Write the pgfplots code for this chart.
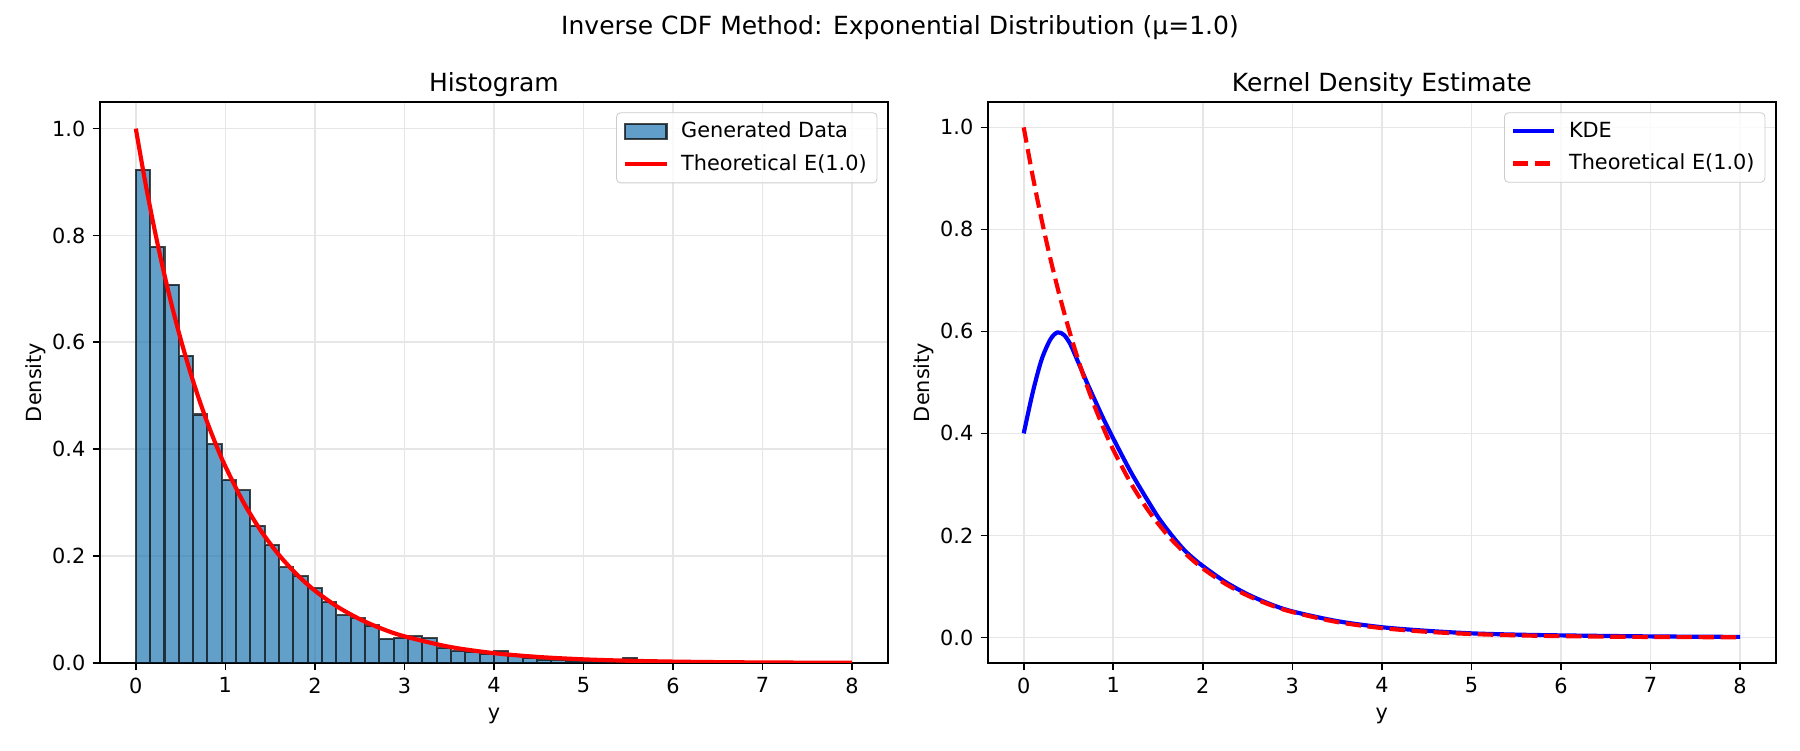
\documentclass[border=0pt]{standalone}
\usepackage{pgfplots}
\pgfplotsset{compat=1.18}
\usepackage{fontspec}
\setmainfont{DejaVu Sans}
\definecolor{histfill}{RGB}{31,119,180}
\definecolor{gridc}{RGB}{230,230,230}
\definecolor{legc}{RGB}{204,204,204}
\pgfplotsset{
  mpl/.style={
    scale only axis,
    width=378.2pt, height=269.3pt,
    xmin=-0.4, xmax=8.4,
    xtick={0,1,2,3,4,5,6,7,8},
    tick align=outside,
    xtick pos=bottom, ytick pos=left,
    major tick length=3.5pt,
    every tick/.style={black, line width=0.8pt},
    axis line style={black, line width=0.8pt},
    grid=major,
    major grid style={gridc, line width=0.8pt},
    tick label style={font=\fontsize{10}{12}\selectfont},
    label style={font=\fontsize{10}{12}\selectfont},
    ylabel shift=-4pt,
    /pgf/number format/assume math mode=true,
    yticklabel style={/pgf/number format/fixed, /pgf/number format/fixed zerofill, /pgf/number format/precision=1},
    title style={at={(0.5,1)}, anchor=base, yshift=-1pt, inner sep=0pt, font=\fontsize{12}{14}\selectfont},
    xlabel={y}, ylabel={Density},
    legend cell align=left,
    legend style={at={(1,1)}, anchor=north east, xshift=-5pt, yshift=-5pt,
      draw=legc, rounded corners=2pt, fill=white, fill opacity=0.8, text opacity=1,
      font=\fontsize{10}{12}\selectfont,
      inner xsep=3pt, inner ysep=2.5pt,
      row sep=2.5pt,
      nodes={inner sep=2pt},
      /tikz/every odd column/.append style={column sep=4pt}},
  }
}
\begin{document}
\begin{tikzpicture}
\path[use as bounding box] (0,0) rectangle (864pt,360pt);
\node[anchor=base, font=\fontsize{12}{14}\selectfont] at (432pt,343.4pt) {Inverse CDF Method: Exponential Distribution (μ=1.0)};
\begin{axis}[mpl, at={(48pt,41.8pt)}, anchor=south west,
  ymin=0, ymax=1.05, ytick={0,0.2,0.4,0.6,0.8,1.0},
  title={Histogram}]
\addplot[ybar interval, fill=histfill, fill opacity=0.7, draw=black, draw opacity=0.7, line width=1pt,
  legend image code/.code={\draw[sharp corners, fill=histfill, fill opacity=0.7, draw=black, draw opacity=0.7, line width=1pt] (0pt,-3.6pt) rectangle (20pt,3.6pt);}]
coordinates {
(0.00,0.923) (0.16,0.779) (0.32,0.708) (0.48,0.575) (0.64,0.465)
(0.80,0.409) (0.96,0.342) (1.12,0.323) (1.28,0.257) (1.44,0.221)
(1.60,0.179) (1.76,0.163) (1.92,0.140) (2.08,0.114) (2.24,0.089)
(2.40,0.084) (2.56,0.070) (2.72,0.045) (2.88,0.047) (3.04,0.050)
(3.20,0.047) (3.36,0.028) (3.52,0.022) (3.68,0.021) (3.84,0.017)
(4.00,0.022) (4.16,0.013) (4.32,0.009) (4.48,0.006) (4.64,0.005)
(4.80,0.004) (4.96,0.003) (5.12,0.002) (5.28,0.001) (5.44,0.010)
(5.60,0.010)
};
\addlegendentry{Generated Data}
\addplot[red, line width=2pt, smooth,
  legend image code/.code={\draw[sharp corners, red, line width=2pt] (0pt,0pt) -- (20pt,0pt);}]
coordinates {
(0,1) (0.1,0.9048) (0.2,0.8187) (0.3,0.7408) (0.4,0.6703) (0.5,0.6065)
(0.6,0.5488) (0.7,0.4966) (0.8,0.4493) (0.9,0.4066) (1.0,0.3679)
(1.2,0.3012) (1.4,0.2466) (1.6,0.2019) (1.8,0.1653) (2.0,0.1353)
(2.25,0.1054) (2.5,0.0821) (2.75,0.0639) (3.0,0.0498) (3.5,0.0302)
(4.0,0.0183) (4.5,0.0111) (5.0,0.0067) (5.5,0.0041) (6.0,0.0025)
(6.5,0.0015) (7.0,0.0009) (7.5,0.00055) (8.0,0.00034)
};
\addlegendentry{Theoretical E(1.0)}
\end{axis}
\begin{axis}[mpl, at={(474.2pt,41.8pt)}, anchor=south west,
  ymin=-0.05, ymax=1.05, ytick={0,0.2,0.4,0.6,0.8,1.0},
  title={Kernel Density Estimate}]
\addplot[blue, line width=2pt, smooth,
  legend image code/.code={\draw[sharp corners, blue, line width=2pt] (0pt,0pt) -- (20pt,0pt);}]
coordinates {
(0,0.40) (0.1,0.48) (0.2,0.545) (0.3,0.585) (0.377,0.598) (0.45,0.593)
(0.52,0.575) (0.6,0.543) (0.7,0.502) (0.8,0.463) (0.9,0.425)
(1.0,0.390) (1.1,0.356) (1.2,0.323) (1.3,0.293) (1.4,0.264) (1.5,0.236)
(1.6,0.212) (1.7,0.190) (1.8,0.170) (1.9,0.154) (2.0,0.140)
(2.25,0.109) (2.5,0.0846) (2.75,0.0655)
(3.0,0.051) (3.5,0.032) (4.0,0.020) (4.5,0.013) (5.0,0.008) (5.5,0.0055)
(6.0,0.004) (7.0,0.002) (8.0,0.001)
};
\addlegendentry{KDE}
\addplot[red, line width=2pt, smooth, dash pattern=on 7.4pt off 3.2pt,
  legend image code/.code={\draw[sharp corners, red, line width=2pt, dash pattern=on 7.4pt off 3.2pt] (0pt,0pt) -- (20pt,0pt);}]
coordinates {
(0,1) (0.1,0.9048) (0.2,0.8187) (0.3,0.7408) (0.4,0.6703) (0.5,0.6065)
(0.6,0.5488) (0.7,0.4966) (0.8,0.4493) (0.9,0.4066) (1.0,0.3679)
(1.2,0.3012) (1.4,0.2466) (1.6,0.2019) (1.8,0.1653) (2.0,0.1353)
(2.25,0.1054) (2.5,0.0821) (2.75,0.0639) (3.0,0.0498) (3.5,0.0302)
(4.0,0.0183) (4.5,0.0111) (5.0,0.0067) (5.5,0.0041) (6.0,0.0025)
(6.5,0.0015) (7.0,0.0009) (7.5,0.00055) (8.0,0.00034)
};
\addlegendentry{Theoretical E(1.0)}
\end{axis}
\end{tikzpicture}
\end{document}
